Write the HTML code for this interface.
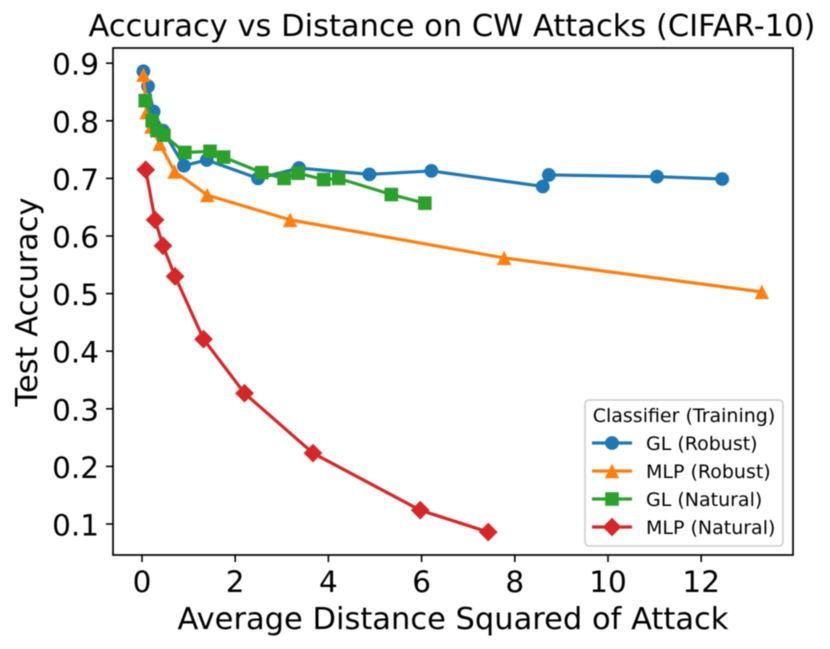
<!DOCTYPE html>
<html>
<head>
<meta charset="utf-8">
<style>
html,body{margin:0;padding:0;background:#fff;width:830px;height:649px;overflow:hidden}
svg{display:block;filter:blur(0.4px)}
text{font-family:"DejaVu Sans","Liberation Sans",sans-serif;fill:#000}
</style>
</head>
<body>
<svg id="chart" xmlns="http://www.w3.org/2000/svg" width="830" height="649" viewBox="0 0 830 649">
<rect x="0" y="0" width="830" height="649" fill="#fff"/>
<text x="452" y="36" font-size="30.5" text-anchor="middle">Accuracy vs Distance on CW Attacks (CIFAR-10)</text>
<text x="453" y="629" font-size="30.5" text-anchor="middle">Average Distance Squared of Attack</text>
<text transform="translate(37,302) rotate(-90)" font-size="30.5" text-anchor="middle">Test Accuracy</text>
<g id="ticks"></g>
<g id="series"></g>
<rect x="113" y="48" width="680" height="507" fill="none" stroke="#000" stroke-width="1.7"/>
<g id="legend">
<rect x="585" y="400" width="198" height="146" rx="4" fill="#fff" fill-opacity="0.9" stroke="#ccc" stroke-width="1.5"/>
<text x="684" y="422" font-size="19" text-anchor="middle">Classifier (Training)</text>
</g>
</svg>
<script>
var xTicks = [0, 2, 4, 6, 8, 10, 12];
var yTicks = [0.1, 0.2, 0.3, 0.4, 0.5, 0.6, 0.7, 0.8, 0.9];
var seriesNames = ['GL (Robust)', 'MLP (Robust)', 'GL (Natural)', 'MLP (Natural)'];
var seriesColors = ['#1f77b4', '#ff7f0e', '#2ca02c', '#d62728'];
var seriesMarkers = ['circle', 'triangle', 'square', 'diamond'];
var glRobustX = [0.03, 0.13, 0.25, 0.45, 0.9, 1.39, 2.49, 3.37, 4.88, 6.21, 8.6, 8.73, 11.05, 12.45];
var glRobustY = [0.886, 0.86, 0.816, 0.783, 0.722, 0.732, 0.70, 0.718, 0.707, 0.713, 0.686, 0.706, 0.703, 0.699];
var mlpRobustX = [0.03, 0.1, 0.2, 0.38, 0.7, 1.4, 3.18, 7.77, 13.3];
var mlpRobustY = [0.88, 0.815, 0.79, 0.76, 0.712, 0.671, 0.628, 0.562, 0.503];
var glNaturalX = [0.07, 0.22, 0.32, 0.47, 0.92, 1.46, 1.75, 2.57, 3.05, 3.35, 3.9, 4.22, 5.35, 6.07];
var glNaturalY = [0.835, 0.8, 0.783, 0.775, 0.745, 0.747, 0.737, 0.71, 0.70, 0.709, 0.698, 0.70, 0.672, 0.657];
var mlpNaturalX = [0.08, 0.28, 0.45, 0.71, 1.32, 2.2, 3.67, 5.97, 7.43];
var mlpNaturalY = [0.715, 0.628, 0.583, 0.53, 0.421, 0.327, 0.223, 0.124, 0.086];
var allX = [glRobustX, mlpRobustX, glNaturalX, mlpNaturalX];
var allY = [glRobustY, mlpRobustY, glNaturalY, mlpNaturalY];

var NS = 'http://www.w3.org/2000/svg';
function xPos(v) { return 142 + v * 46.6; }
function yPos(v) { return 524 - (v - 0.1) * 576; }
function make(tag, attrs, parent) {
  var el = document.createElementNS(NS, tag);
  for (var k in attrs) el.setAttribute(k, attrs[k]);
  parent.appendChild(el);
  return el;
}
function drawMarker(kind, cx, cy, color, scale, parent) {
  var el;
  if (kind === 'circle') {
    el = make('circle', {cx: cx, cy: cy, r: 6.9 * scale, fill: color}, parent);
  } else if (kind === 'square') {
    var s = 6.8 * scale;
    el = make('rect', {x: cx - s, y: cy - s, width: 2 * s, height: 2 * s, fill: color}, parent);
  } else if (kind === 'triangle') {
    var t = 7.2 * scale;
    el = make('polygon', {points: cx + ',' + (cy - t) + ' ' + (cx - t) + ',' + (cy + t) + ' ' + (cx + t) + ',' + (cy + t), fill: color}, parent);
  } else {
    var d = 9.4 * scale;
    el = make('polygon', {points: cx + ',' + (cy - d) + ' ' + (cx + d) + ',' + cy + ' ' + cx + ',' + (cy + d) + ' ' + (cx - d) + ',' + cy, fill: color}, parent);
  }
  return el;
}

var tickGroup = document.getElementById('ticks');
xTicks.forEach(function (v) {
  var px = xPos(v);
  var mark = make('line', {x1: px, x2: px, y1: 555, y2: 562, stroke: '#000', 'stroke-width': 1.6}, tickGroup);
  
  
  var label = make('text', {x: px, y: 592, 'font-size': 29.5, 'text-anchor': 'middle'}, tickGroup);
  label.textContent = String(v);
  
  
});
yTicks.forEach(function (v) {
  var py = yPos(v);
  var mark = make('line', {x1: 106, x2: 113, y1: py, y2: py, stroke: '#000', 'stroke-width': 1.6}, tickGroup);
  
  
  var label = make('text', {x: 99, y: py + 11.5, 'font-size': 29.5, 'text-anchor': 'end'}, tickGroup);
  label.textContent = v.toFixed(1);
  
  
});

var seriesGroup = document.getElementById('series');
seriesNames.forEach(function (name, i) {
  var g = make('g', {}, seriesGroup);
  
  
  var pts = allX[i].map(function (x, j) { return xPos(x) + ',' + yPos(allY[i][j]); }).join(' ');
  var line = make('polyline', {points: pts, fill: 'none', stroke: seriesColors[i], 'stroke-width': 3.2, 'stroke-linejoin': 'round'}, g);
  
  
  allX[i].forEach(function (x, j) {
    var m = drawMarker(seriesMarkers[i], xPos(x), yPos(allY[i][j]), seriesColors[i], 1, g);
    
    
  });
});

var legendGroup = document.getElementById('legend');
seriesNames.forEach(function (name, i) {
  var ly = 443 + i * 28;
  var line = make('line', {x1: 592, x2: 632, y1: ly, y2: ly, stroke: seriesColors[i], 'stroke-width': 3.2}, legendGroup);
  
  
  var m = drawMarker(seriesMarkers[i], 612, ly, seriesColors[i], 1, legendGroup);
  
  
  var label = make('text', {x: 646, y: ly + 7, 'font-size': 19}, legendGroup);
  label.textContent = name;
  
  
});
</script>
</body>
</html>
